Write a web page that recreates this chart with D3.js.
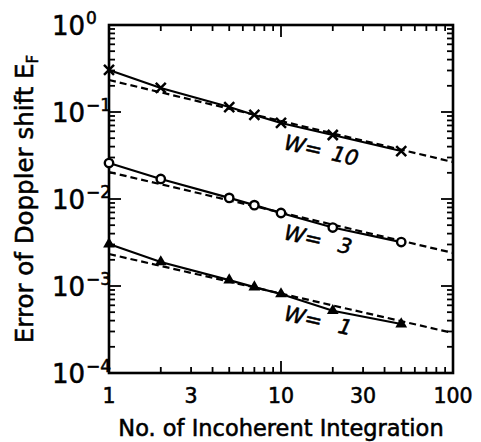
<!DOCTYPE html>
<html>
<head>
<meta charset="utf-8">
<script src="https://cdn.jsdelivr.net/npm/d3@7"></script>
<style>
  html, body { margin: 0; padding: 0; background: #fff; }
  svg { display: block; }
  text { font-family: "DejaVu Sans", sans-serif; fill: #000; stroke: #000; stroke-width: 0.55px; }
</style>
</head>
<body>
<script>
// Number of incoherent integrations
const integrations = [1, 2, 5, 7, 10, 20, 50];

// Simulated Doppler shift error for each window width W
const errW10 = [0.304, 0.189, 0.114, 0.0924, 0.0748, 0.0544, 0.0356];
const errW3  = [0.0259, 0.0170, 0.0103, 0.0085, 0.0069, 0.0047, 0.0032];
const errW1  = [0.00304, 0.00189, 0.00117, 0.00097, 0.00081, 0.00052, 0.000366];

// Theoretical curves (straight in log-log), evaluated at the axis ends
const theoryN   = [1, 100];
const theoryW10 = [0.233, 0.0266];
const theoryW3  = [0.0204, 0.0024];
const theoryW1  = [0.00233, 0.000288];

// Axis tick labels
const xTickLabels = [1, 3, 10, 30, 100];
const yTickExponents = [0, -1, -2, -3, -4];

const series = [
  { w: "10", values: errW10, theory: theoryW10, marker: "cross" },
  { w: "3",  values: errW3,  theory: theoryW3,  marker: "circle" },
  { w: "1",  values: errW1,  theory: theoryW1,  marker: "triangle" }
];

const width = 481, height = 442;
const margin = { left: 109, right: 28, top: 25, bottom: 69 };

const svg = d3.select("body").append("svg")
  .attr("width", width).attr("height", height);

const x = d3.scaleLog().domain([1, 100]).range([margin.left, width - margin.right]);
const y = d3.scaleLog().domain([1e-4, 1]).range([height - margin.bottom, margin.top]);

const [x0, x1] = x.range();
const [y0, y1] = y.range(); // y0 bottom, y1 top

// Tick positions: decades are major, 2..9 multiples are minor
function logTicks(lo, hi) {
  const out = [];
  for (let e = Math.floor(Math.log10(lo)); e <= Math.ceil(Math.log10(hi)); e++) {
    for (let m = 1; m <= 9; m++) {
      const v = m * Math.pow(10, e);
      if (v >= lo * 0.999 && v <= hi * 1.001) out.push({ v, major: m === 1 });
    }
  }
  return out;
}
const majorLen = 12, minorLen = 6;

const ticks = svg.append("g").attr("stroke", "#000").attr("stroke-width", 1.8);
logTicks(1, 100).forEach(t => {
  const len = t.major ? majorLen : minorLen;
  const px = x(t.v);
  ticks.append("line").attr("x1", px).attr("x2", px).attr("y1", y0).attr("y2", y0 - len);
  ticks.append("line").attr("x1", px).attr("x2", px).attr("y1", y1).attr("y2", y1 + len);
});
logTicks(1e-4, 1).forEach(t => {
  const len = t.major ? majorLen : minorLen;
  const py = y(t.v);
  ticks.append("line").attr("x1", x0).attr("x2", x0 + len).attr("y1", py).attr("y2", py);
  ticks.append("line").attr("x1", x1).attr("x2", x1 - len).attr("y1", py).attr("y2", py);
});

// Frame
svg.append("rect")
  .attr("x", x0).attr("y", y1)
  .attr("width", x1 - x0).attr("height", y0 - y1)
  .attr("fill", "none").attr("stroke", "#000").attr("stroke-width", 2.6);

// X tick labels
svg.append("g").selectAll("text").data(xTickLabels).join("text")
  .attr("x", d => x(d)).attr("y", y0 + 30)
  .attr("text-anchor", "middle")
  .attr("font-size", 20.5)
  .text(d => d);

// Y tick labels as powers of ten
const yl = svg.append("g");
yTickExponents.forEach(e => {
  const py = y(Math.pow(10, e));
  yl.append("text").attr("x", 85).attr("y", py + 10)
    .attr("text-anchor", "end").attr("font-size", 26).text("10");
  yl.append("text").attr("x", 86).attr("y", py - 1)
    .attr("text-anchor", "start").attr("font-size", 17)
    .text(e === 0 ? "0" : "\u2212" + Math.abs(e));
});

// Axis titles
svg.append("text")
  .attr("x", (x0 + x1) / 2).attr("y", 436)
  .attr("text-anchor", "middle").attr("font-size", 22.5)
  .text("No. of Incoherent Integration");

const yt = svg.append("text")
  .attr("transform", "translate(33,199) rotate(-90)")
  .attr("text-anchor", "middle").attr("font-size", 24.5);
yt.append("tspan").text("Error of Doppler shift E");
yt.append("tspan").attr("font-size", 15).attr("dy", 5).text("F");

// Theory (dashed) and simulation (solid) curves
const line = d3.line().x(d => x(d[0])).y(d => y(d[1]));
const plot = svg.append("g");

series.forEach(s => {
  plot.append("path")
    .attr("d", line(theoryN.map((n, i) => [n, s.theory[i]])))
    .attr("fill", "none").attr("stroke", "#000")
    .attr("stroke-width", 2.2).attr("stroke-dasharray", "7,4");
  plot.append("path")
    .attr("d", line(integrations.map((n, i) => [n, s.values[i]])))
    .attr("fill", "none").attr("stroke", "#000").attr("stroke-width", 2.2);
});

// Markers
series.forEach(s => {
  const g = plot.append("g");
  integrations.forEach((n, i) => {
    const px = x(n), py = y(s.values[i]);
    if (s.marker === "cross") {
      const r = 5;
      g.append("path")
        .attr("d", `M${px - r},${py - r}L${px + r},${py + r}M${px - r},${py + r}L${px + r},${py - r}`)
        .attr("stroke", "#000").attr("stroke-width", 2.5);
    } else if (s.marker === "circle") {
      g.append("circle").attr("cx", px).attr("cy", py).attr("r", 4.2)
        .attr("fill", "#fff").attr("stroke", "#000").attr("stroke-width", 2.4);
    } else {
      g.append("path")
        .attr("d", d3.symbol(d3.symbolTriangle, 60)())
        .attr("transform", `translate(${px},${py})`)
        .attr("fill", "#000");
    }
  });
});

// Window-width labels along each curve
series.forEach(s => {
  const ref = s.values[integrations.indexOf(10)];
  const g = svg.append("g")
    .attr("transform", `translate(${x(10) + 2},${y(ref) + 26}) rotate(13)`);
  g.append("text").attr("x", 0).attr("y", 0)
    .attr("font-size", 21).attr("font-style", "italic").text("W=");
  g.append("text").attr("x", 62).attr("y", 0)
    .attr("text-anchor", "middle")
    .attr("font-size", 21).attr("font-style", "italic").text(s.w);
});
</script>
</body>
</html>
